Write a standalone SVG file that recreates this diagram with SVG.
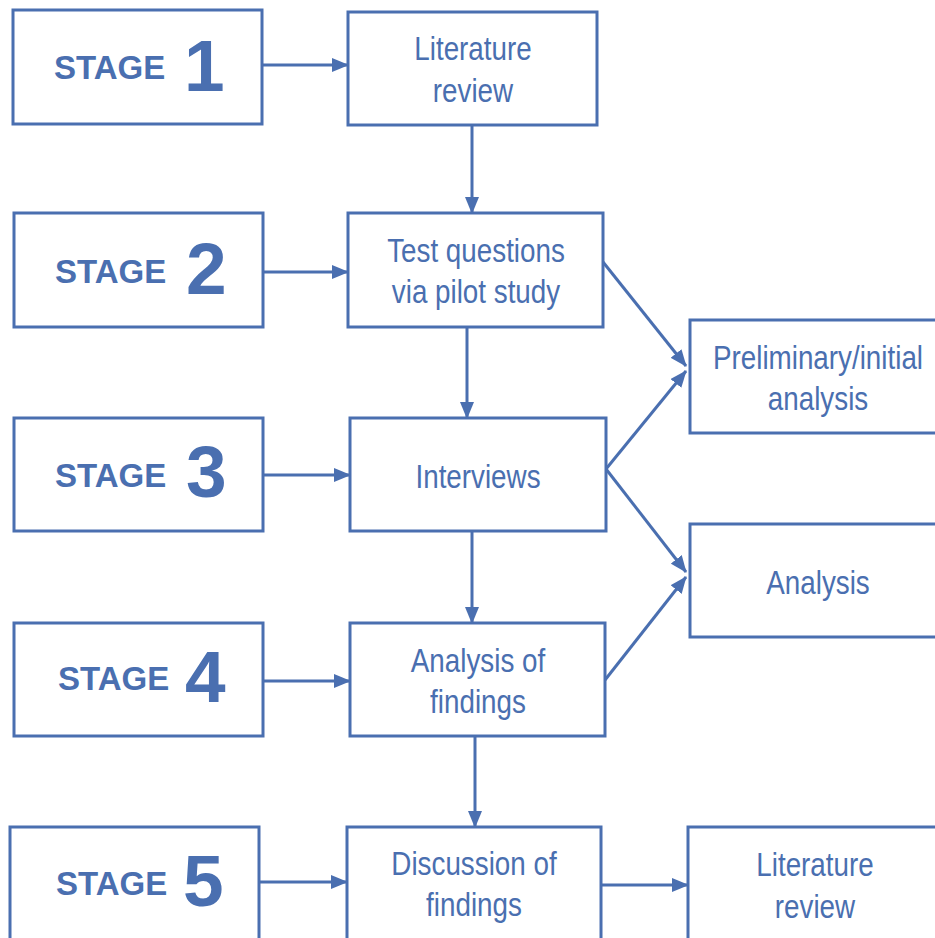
<svg xmlns="http://www.w3.org/2000/svg" width="935" height="938" viewBox="0 0 935 938">
  <style>
    .box { fill: #ffffff; stroke: #4a6fb0; stroke-width: 3; }
    .lbl { font-family: "Liberation Sans", Arial, sans-serif; font-size: 33.5px; fill: #4a6fb0; text-anchor: middle; }
    .stg { font-family: "Liberation Sans", Arial, sans-serif; font-weight: bold; fill: #4a6fb0; }
    .stg .w { font-size: 33px; }
    .stg .n { font-size: 73px; }
    .conn line { stroke: #4a6fb0; stroke-width: 3; marker-end: url(#head); }
  </style>
  <defs>
    <marker id="head" markerUnits="userSpaceOnUse" markerWidth="17" markerHeight="14" refX="16" refY="7" orient="auto">
      <path d="M0,0 L17,7 L0,14 Z" fill="#4a6fb0"/>
    </marker>
  </defs>
  <rect width="935" height="938" fill="#ffffff"/>

  <!-- connectors -->
  <g id="connectors" class="conn">
    <line x1="263" y1="65" x2="348" y2="65"/>
    <line x1="263" y1="272" x2="348" y2="272"/>
    <line x1="263" y1="475" x2="350" y2="475"/>
    <line x1="263" y1="681" x2="350" y2="681"/>
    <line x1="259" y1="882" x2="347" y2="882"/>
    <line x1="601" y1="885" x2="688" y2="885"/>
    <line x1="472" y1="125" x2="472" y2="213"/>
    <line x1="467" y1="327" x2="467" y2="418"/>
    <line x1="472" y1="532" x2="472" y2="623"/>
    <line x1="475" y1="737" x2="475" y2="827"/>
    <line x1="603" y1="262" x2="686" y2="366"/>
    <line x1="606" y1="469" x2="686" y2="371"/>
    <line x1="606" y1="469" x2="686" y2="572"/>
    <line x1="605" y1="680" x2="686" y2="577"/>
  </g>

  <!-- stage markers -->
  <g id="stage1">
    <rect class="box" x="13" y="10" width="249" height="114"/>
    <text class="stg" y="79"><tspan class="w" x="54">STAGE</tspan><tspan class="n" x="184" y="91">1</tspan></text>
  </g>
  <g id="stage2">
    <rect class="box" x="14" y="213" width="249" height="114"/>
    <text class="stg" y="283"><tspan class="w" x="55">STAGE</tspan><tspan class="n" x="186" y="294">2</tspan></text>
  </g>
  <g id="stage3">
    <rect class="box" x="14" y="418" width="249" height="113"/>
    <text class="stg" y="487"><tspan class="w" x="55">STAGE</tspan><tspan class="n" x="186" y="497">3</tspan></text>
  </g>
  <g id="stage4">
    <rect class="box" x="14" y="623" width="249" height="113"/>
    <text class="stg" y="690"><tspan class="w" x="58">STAGE</tspan><tspan class="n" x="185" y="702">4</tspan></text>
  </g>
  <g id="stage5">
    <rect class="box" x="10" y="827" width="249" height="114"/>
    <text class="stg" y="895"><tspan class="w" x="56">STAGE</tspan><tspan class="n" x="183" y="906">5</tspan></text>
  </g>

  <!-- activity boxes; labels set in a condensed width -->
  <g id="literature-review">
    <rect class="box" x="348" y="12" width="249" height="113"/>
    <text class="lbl" transform="translate(473,60) scale(0.83,1)">Literature</text>
    <text class="lbl" transform="translate(473,102) scale(0.83,1)">review</text>
  </g>
  <g id="test-questions">
    <rect class="box" x="348" y="213" width="255" height="114"/>
    <text class="lbl" transform="translate(476,262) scale(0.83,1)">Test questions</text>
    <text class="lbl" transform="translate(476,303) scale(0.83,1)">via pilot study</text>
  </g>
  <g id="interviews">
    <rect class="box" x="350" y="418" width="256" height="113"/>
    <text class="lbl" transform="translate(478,488) scale(0.83,1)">Interviews</text>
  </g>
  <g id="analysis-of-findings">
    <rect class="box" x="350" y="623" width="255" height="113"/>
    <text class="lbl" transform="translate(478,672) scale(0.83,1)">Analysis of</text>
    <text class="lbl" transform="translate(478,713) scale(0.83,1)">findings</text>
  </g>
  <g id="discussion-of-findings">
    <rect class="box" x="347" y="827" width="254" height="114"/>
    <text class="lbl" transform="translate(474,875) scale(0.83,1)">Discussion of</text>
    <text class="lbl" transform="translate(474,916) scale(0.83,1)">findings</text>
  </g>
  <g id="preliminary-analysis">
    <rect class="box" x="690" y="320" width="252" height="113"/>
    <text class="lbl" transform="translate(818,369) scale(0.83,1)">Preliminary/initial</text>
    <text class="lbl" transform="translate(818,410) scale(0.83,1)">analysis</text>
  </g>
  <g id="analysis">
    <rect class="box" x="690" y="524" width="252" height="113"/>
    <text class="lbl" transform="translate(818,594) scale(0.83,1)">Analysis</text>
  </g>
  <g id="literature-review-final">
    <rect class="box" x="688" y="827" width="254" height="114"/>
    <text class="lbl" transform="translate(815,876) scale(0.83,1)">Literature</text>
    <text class="lbl" transform="translate(815,918) scale(0.83,1)">review</text>
  </g>
</svg>
